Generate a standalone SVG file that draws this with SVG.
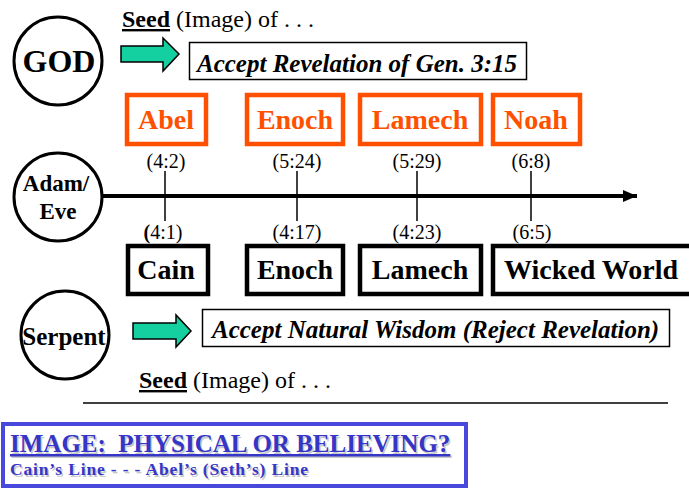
<svg xmlns="http://www.w3.org/2000/svg" width="689" height="488" viewBox="0 0 689 488" font-family="'Liberation Serif', serif">
<style>
text{font-family:'Liberation Serif',serif}
.circ{fill:#fff;stroke:#000;stroke-width:3}
.ob{fill:#fff;stroke:#ff5000;stroke-width:4.5}
.bb{fill:#fff;stroke:#000;stroke-width:4.5}
.tb{fill:#fff;stroke:#000;stroke-width:1.5}
.arr{fill:#14cfa0;stroke:#000;stroke-width:1.5;stroke-linejoin:miter}
.bold{font-weight:bold}
.ot{font-weight:bold;font-size:28px;fill:#ff5000;text-anchor:middle}
.bt{font-weight:bold;font-size:28px;fill:#000;text-anchor:middle}
.ref{font-size:20px;fill:#000;text-anchor:middle}
.bi{font-weight:bold;font-style:italic;font-size:25px;fill:#000}
.tick{stroke:#000;stroke-width:1.5}
</style>
<defs>
<marker id="ah" viewBox="0 0 14 12" refX="14" refY="6" markerWidth="14" markerHeight="12" markerUnits="userSpaceOnUse" orient="auto">
<path d="M0,0 L14,6 L0,12 Z" fill="#000"/>
</marker>
</defs>

<g id="god">
<circle class="circ" cx="58" cy="61" r="44"/>
<text class="bold" x="59" y="72" font-size="32" text-anchor="middle">GOD</text>
</g>

<g id="seed-top">
<text x="122" y="27" font-size="24"><tspan font-weight="bold" text-decoration="underline">Seed</tspan> (Image) of . . .</text>
</g>

<g id="arrow-top">
<path class="arr" d="M121,46 L163,46 L163,38 L179,54 L163,71 L163,62 L121,62 Z"/>
</g>

<g id="accept-revelation">
<rect class="tb" x="189.5" y="42.5" width="337" height="37"/>
<text class="bi" x="197" y="72">Accept Revelation of Gen. 3:15</text>
</g>

<g id="abel"><rect class="ob" x="127" y="95" width="79" height="49"/><text class="ot" x="166" y="129">Abel</text></g>
<g id="enoch-top"><rect class="ob" x="247" y="95" width="96" height="49"/><text class="ot" x="295" y="129">Enoch</text></g>
<g id="lamech-top"><rect class="ob" x="360" y="95" width="121" height="49"/><text class="ot" x="420" y="129">Lamech</text></g>
<g id="noah"><rect class="ob" x="493" y="95" width="87" height="49"/><text class="ot" x="536" y="129">Noah</text></g>

<g id="adam-eve">
<circle class="circ" cx="58" cy="197" r="44"/>
<text class="bold" x="56" y="191" font-size="23" text-anchor="middle">Adam/</text>
<text class="bold" x="58" y="219" font-size="23" text-anchor="middle">Eve</text>
</g>

<g id="connectors">
<line x1="103" y1="196" x2="637" y2="196" stroke="#000" stroke-width="4" marker-end="url(#ah)"/>
<line class="tick" x1="165" y1="171" x2="165" y2="221"/>
<line class="tick" x1="297" y1="171" x2="297" y2="221"/>
<line class="tick" x1="417" y1="171" x2="417" y2="221"/>
<line class="tick" x1="531" y1="171" x2="531" y2="221"/>
</g>

<g id="refs">
<text class="ref" x="166" y="168">(4:2)</text>
<text class="ref" x="297" y="168">(5:24)</text>
<text class="ref" x="417" y="168">(5:29)</text>
<text class="ref" x="531" y="168">(6:8)</text>
<text class="ref" x="163" y="239"><tspan font-weight="bold">(</tspan>4:1)</text>
<text class="ref" x="297" y="239">(4:17)</text>
<text class="ref" x="417" y="239">(4:23)</text>
<text class="ref" x="532" y="239">(6:5)</text>
</g>

<g id="cain"><rect class="bb" x="128" y="246" width="80" height="48"/><text class="bt" x="166" y="279">Cain</text></g>
<g id="enoch-bottom"><rect class="bb" x="247" y="246" width="96" height="48"/><text class="bt" x="295" y="279">Enoch</text></g>
<g id="lamech-bottom"><rect class="bb" x="360" y="246" width="121" height="48"/><text class="bt" x="420" y="279">Lamech</text></g>
<g id="wicked-world"><rect class="bb" x="493" y="246" width="200" height="48"/><text class="bt" x="591" y="279">Wicked World</text></g>

<g id="serpent">
<circle class="circ" cx="65" cy="335" r="44"/>
<text class="bold" x="64" y="345" font-size="25" text-anchor="middle">Serpent</text>
</g>

<g id="arrow-bottom">
<path class="arr" d="M133,323 L176,323 L176,315 L191,331 L176,347 L176,339 L133,339 Z"/>
</g>

<g id="accept-natural">
<rect class="tb" x="202.5" y="309.5" width="467" height="37"/>
<text class="bi" x="212" y="338">Accept Natural Wisdom (Reject Revelation)</text>
</g>

<g id="seed-bottom">
<text x="139" y="388" font-size="24"><tspan font-weight="bold" text-decoration="underline">Seed</tspan> (Image) of . . .</text>
<line x1="83" y1="403" x2="668" y2="403" stroke="#000" stroke-width="1.5"/>
</g>

<g id="image-box">
<rect x="3" y="424" width="463" height="62" fill="#fff" stroke="#4848dc" stroke-width="4"/>
<text class="bold" x="11.5" y="453.5" font-size="25" fill="#c8c8c8" text-decoration="underline" xml:space="preserve">IMAGE:  PHYSICAL OR BELIEVING?</text>
<text class="bold" x="10" y="452" font-size="25" fill="#3535c8" text-decoration="underline" xml:space="preserve">IMAGE:  PHYSICAL OR BELIEVING?</text>
<text class="bold" x="11.5" y="476.5" font-size="17.5" fill="#c8c8c8" textLength="298">Cain’s Line - - - Abel’s (Seth’s) Line</text>
<text class="bold" x="10" y="475" font-size="17.5" fill="#3535c8" textLength="298">Cain’s Line - - - Abel’s (Seth’s) Line</text>
</g>
</svg>
